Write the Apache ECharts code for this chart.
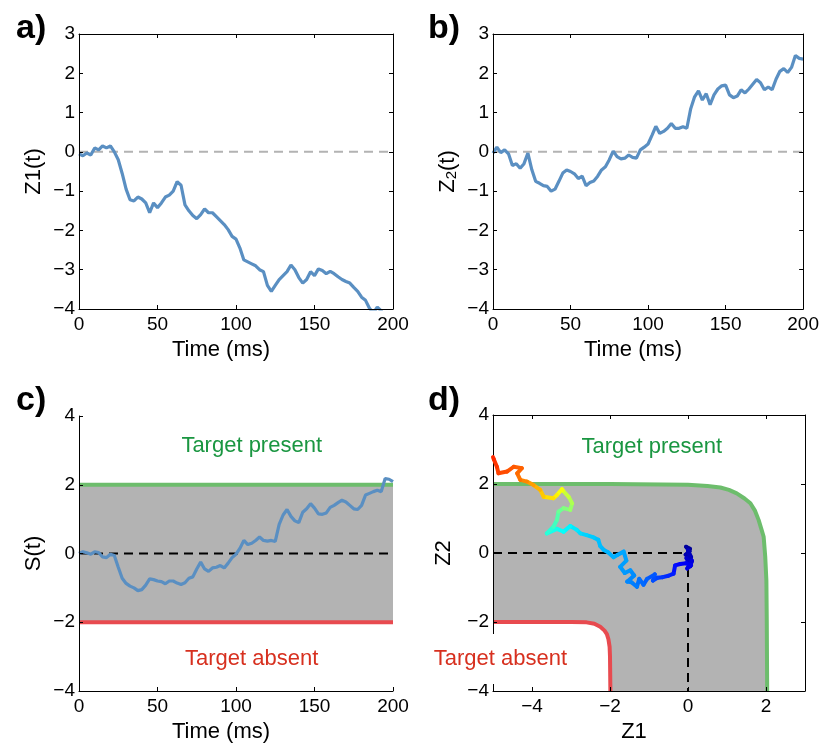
<!DOCTYPE html>
<html>
<head>
<meta charset="utf-8">
<script src="https://cdn.jsdelivr.net/npm/echarts@6/dist/echarts.min.js"></script>
<style>
html, body { margin: 0; padding: 0; background: #fff; }
#chart { width: 822px; height: 744px; }
</style>
</head>
<body>
<div id="chart"></div>
<script>
// time samples (ms) shared by panels a-c
const timeMs = [0, 2.5, 5, 7.5, 10, 12.5, 15, 17.5, 20, 22.5, 25, 27.5, 30, 32.5, 35, 37.5, 40,
  42.5, 45, 47.5, 50, 52.5, 55, 57.5, 60, 62.5, 65, 67.5, 70, 72.5, 75, 77.5, 80, 82.5, 85,
  87.5, 90, 92.5, 95, 97.5, 100, 102.5, 105, 107.5, 110, 112.5, 115, 117.5, 120, 122.5, 125,
  127.5, 130, 132.5, 135, 137.5, 140, 142.5, 145, 147.5, 150, 152.5, 155, 157.5, 160, 162.5,
  165, 167.5, 170, 172.5, 175, 177.5, 180, 182.5, 185, 187.5, 190, 192.5, 195, 197.5, 200];

// a) Z1(t)
const z1Values = [-0.05, -0.1, -0.03, -0.08, 0.1, 0.05, 0.15, 0.1, 0.15, 0.0, -0.2, -0.55,
  -0.95, -1.22, -1.25, -1.15, -1.2, -1.3, -1.55, -1.3, -1.42, -1.3, -1.15, -1.1, -1.0, -0.76,
  -0.85, -1.35, -1.5, -1.62, -1.7, -1.6, -1.45, -1.55, -1.55, -1.65, -1.75, -1.85, -1.98,
  -2.15, -2.22, -2.45, -2.75, -2.8, -2.85, -2.9, -3.0, -3.05, -3.4, -3.55, -3.4, -3.25, -3.15,
  -3.05, -2.88, -3.0, -3.2, -3.34, -3.25, -3.05, -3.15, -2.98, -3.02, -3.1, -3.04, -3.1,
  -3.18, -3.25, -3.3, -3.34, -3.45, -3.55, -3.7, -3.78, -3.98, -4.1, -3.95, -4.05, -4.2,
  -4.3, -4.35];

// b) Z2(t)
const z2Values = [-0.03, 0.12, -0.02, 0.05, -0.05, -0.35, -0.3, -0.42, -0.3, -0.03, -0.45,
  -0.75, -0.8, -0.86, -0.88, -1.0, -0.95, -0.75, -0.54, -0.46, -0.5, -0.56, -0.68, -0.62,
  -0.86, -0.78, -0.74, -0.62, -0.46, -0.38, -0.2, 0.02, -0.12, -0.18, -0.16, -0.08, -0.14,
  -0.16, 0.05, 0.12, 0.2, 0.42, 0.65, 0.47, 0.52, 0.6, 0.72, 0.6, 0.6, 0.64, 0.6, 1.1, 1.4,
  1.55, 1.32, 1.48, 1.2, 1.45, 1.6, 1.68, 1.7, 1.45, 1.38, 1.42, 1.58, 1.5, 1.6, 1.72, 1.84,
  1.76, 1.58, 1.65, 1.58, 1.85, 2.05, 2.12, 2.02, 2.15, 2.45, 2.38, 2.36];

// c) S(t)
const sValues = [0.0, 0.05, 0.02, -0.02, 0.05, 0.03, -0.1, -0.12, -0.02, -0.06, -0.4, -0.72,
  -0.87, -0.95, -1.0, -1.08, -1.05, -0.92, -0.74, -0.76, -0.8, -0.82, -0.88, -0.8, -0.8,
  -0.86, -0.9, -0.85, -0.72, -0.68, -0.45, -0.25, -0.45, -0.52, -0.42, -0.4, -0.35, -0.42,
  -0.28, -0.12, -0.02, 0.15, 0.38, 0.26, 0.3, 0.38, 0.48, 0.38, 0.36, 0.38, 0.35, 0.85,
  1.12, 1.28, 1.08, 0.95, 0.9, 1.2, 1.3, 1.45, 1.32, 1.15, 1.14, 1.18, 1.34, 1.4, 1.48,
  1.55, 1.5, 1.4, 1.3, 1.28, 1.4, 1.7, 1.75, 1.8, 1.84, 1.8, 2.18, 2.16, 2.09];

// d) trajectory in (Z1, Z2), coloured by time
const trajTime = [0, 2, 4, 6, 8, 10, 12, 14, 16, 18, 20, 22, 24, 26, 29, 32, 35, 38, 41, 44,
  46, 48, 50, 52, 54, 56, 58, 59, 60, 62, 63, 64, 65, 66, 67, 68, 69, 70, 71, 72, 74, 76, 78,
  81, 84, 87, 90, 95, 100, 105, 110, 115, 120, 125, 130, 136, 141, 146, 150, 155, 160, 165,
  170, 175, 178, 181, 184, 187, 190, 194, 197, 200];
const trajZ1 = [0, 0.05, -0.05, 0.04, -0.06, 0.08, 0.0, 0.09, -0.04, 0.06, 0.1, -0.02, 0.08,
  -0.05, -0.2, -0.33, -0.37, -0.5, -0.65, -0.78, -0.9, -0.85, -1.05, -1.14, -1.25, -1.31,
  -1.45, -1.56, -1.38, -1.48, -1.62, -1.74, -1.58, -1.65, -1.8, -1.91, -2.05, -2.16, -2.25,
  -2.3, -2.42, -2.6, -2.76, -2.85, -3.02, -3.19, -3.36, -3.62, -3.45, -3.36, -3.32, -3.19,
  -3.02, -2.97, -3.06, -3.2, -3.23, -3.36, -3.45, -3.7, -3.79, -3.96, -4.13, -4.3, -4.38,
  -4.26, -4.47, -4.64, -4.86, -4.9, -4.98, -5.0];
const trajZ2 = [0, 0.12, 0.18, 0.05, -0.05, -0.12, 0.08, -0.25, -0.15, -0.38, -0.22, -0.45,
  -0.35, -0.3, -0.32, -0.36, -0.6, -0.66, -0.7, -0.72, -0.8, -0.62, -0.75, -0.92, -0.75,
  -0.98, -0.85, -0.83, -0.65, -0.5, -0.58, -0.4, -0.22, 0.04, -0.05, -0.12, 0.02, 0.09, 0.2,
  0.38, 0.45, 0.52, 0.57, 0.67, 0.78, 0.62, 0.7, 0.57, 0.76, 0.96, 1.2, 1.3, 1.25, 1.44,
  1.63, 1.8, 1.85, 1.68, 1.59, 1.63, 1.83, 1.97, 2.07, 2.12, 2.31, 2.46, 2.5, 2.36, 2.31,
  2.5, 2.72, 2.78];

// d) decision boundaries
const presentZ1 = [-5, -2, 0, 0.5, 0.83, 1.05, 1.25, 1.45, 1.6, 1.72, 1.81, 1.88, 1.94, 1.98,
  2.01, 2.02, 2.03];
const presentZ2 = [2.0, 2.0, 1.98, 1.94, 1.9, 1.83, 1.73, 1.58, 1.44, 1.22, 0.96, 0.7, 0.47,
  -0.1, -0.8, -2, -4];
const absentZ1 = [-5, -3, -2.6, -2.4, -2.25, -2.14, -2.08, -2.04, -2.01, -2.0, -1.99];
const absentZ2 = [-2, -2, -2.01, -2.05, -2.14, -2.25, -2.35, -2.5, -2.72, -3, -4];

const dTicksZ1 = [-4, -2, 0, 2];

const FONT = '"Liberation Sans", Arial, sans-serif';
const BLUE = '#5a8fc2';
const GREEN = '#6dbd6c';
const RED = '#e84a4f';
const GRAY = '#b3b3b3';
const TXT_GREEN = '#1a9641';
const TXT_RED = '#d7301f';
const jet = ['#00008f', '#0000ff', '#0080ff', '#00ffff', '#80ff80', '#ffff00', '#ff8000', '#ff2000'];

const pairs = (xs, ys) => xs.map((x, i) => [x, ys[i]]);
const minus = (v) => String(v).replace('-', '\u2212');

function axis(o) {
  return Object.assign({
    type: 'value',
    z: 4,
    splitLine: { show: false },
    axisLine: { show: true, onZero: false, lineStyle: { color: '#000', width: 1 } },
    axisTick: { show: true, inside: true, length: 4, lineStyle: { color: '#000' } },
    axisLabel: { show: true, color: '#000', fontSize: 19, fontFamily: FONT, formatter: minus },
    nameLocation: 'middle',
    nameTextStyle: { color: '#000', fontSize: 22, fontFamily: FONT },
  }, o);
}
function xMain(grid, o) {
  return axis(Object.assign({ gridIndex: grid, position: 'bottom', nameGap: 30 }, o, {
    axisLabel: Object.assign({ show: true, color: '#000', fontSize: 19, fontFamily: FONT, formatter: minus, margin: 6 }, o.axisLabel),
    nameTextStyle: { color: '#000', fontSize: 22, fontFamily: FONT, padding: [0, 30, 0, 0] },
  }));
}
function yMain(grid, o) {
  return axis(Object.assign({ gridIndex: grid, position: 'left', nameGap: 34 }, o, {
    axisLabel: { show: true, color: '#000', fontSize: 19, fontFamily: FONT, formatter: minus, margin: 4 },
  }));
}
function mirror(grid, pos, o) {
  return axis(Object.assign({ gridIndex: grid, position: pos }, o, { axisLabel: { show: false } }));
}
function textLabel(text, color, extra) {
  return Object.assign({ formatter: text, color: color, opacity: 1, textBorderWidth: 0,
    fontSize: 22, fontFamily: FONT }, extra);
}

const timeAxis = { min: 0, max: 200, interval: 50, name: 'Time (ms)' };
const zAxis = { min: -4, max: 3, interval: 1 };

const chart = echarts.init(document.getElementById('chart'));
chart.setOption({
  animation: false,
  backgroundColor: '#fff',
  textStyle: { fontFamily: FONT },
  title: [
    { text: 'a)', left: 11, top: 7 },
    { text: 'b)', left: 423, top: 7 },
    { text: 'c)', left: 11, top: 379 },
    { text: 'd)', left: 423, top: 379 },
  ].map((t) => Object.assign(t, { textStyle: { fontSize: 34, fontWeight: 'bold', color: '#000', fontFamily: FONT } })),
  grid: [
    { left: 79, top: 34, width: 314, height: 275 },
    { left: 493, top: 34, width: 312, height: 275 },
    { left: 79, top: 416, width: 314, height: 275 },
    { left: 493, top: 415, width: 312, height: 276 },
  ],
  xAxis: [
    xMain(0, timeAxis),
    mirror(0, 'top', { min: 0, max: 200, interval: 50 }),
    xMain(1, timeAxis),
    mirror(1, 'top', { min: 0, max: 200, interval: 50 }),
    xMain(2, timeAxis),
    xMain(3, {
      min: -5, max: 3, name: 'Z1',
      axisLabel: { customValues: dTicksZ1 },
      axisTick: { show: true, inside: true, length: 4, lineStyle: { color: '#000' }, customValues: dTicksZ1 },
    }),
    mirror(3, 'top', {
      min: -5, max: 3,
      axisTick: { show: true, inside: true, length: 4, lineStyle: { color: '#000' }, customValues: dTicksZ1 },
    }),
  ],
  yAxis: [
    yMain(0, Object.assign({ name: 'Z1(t)' }, zAxis)),
    mirror(0, 'right', zAxis),
    yMain(1, Object.assign({
      name: '{n|Z}{s|2}{n|(t)}',
      nameTextStyle: {
        color: '#000', fontSize: 22, fontFamily: FONT,
        rich: {
          n: { fontSize: 22, fontFamily: FONT, color: '#000' },
          s: { fontSize: 15, fontFamily: FONT, color: '#000', verticalAlign: 'bottom', padding: [8, 0, 0, 0] },
        },
      },
    }, zAxis)),
    mirror(1, 'right', zAxis),
    yMain(2, { min: -4, max: 4, interval: 2, name: 'S(t)' }),
    yMain(3, { min: -4, max: 4, interval: 2, name: 'Z2', nameGap: 38 }),
    mirror(3, 'right', { min: -4, max: 4, interval: 2 }),
  ],
  visualMap: [{
    type: 'continuous', show: false, seriesIndex: 13, dimension: 2,
    min: 0, max: 200, inRange: { color: jet },
  }],
  series: [
    // a
    { type: 'line', xAxisIndex: 0, yAxisIndex: 0, data: [[0, 0], [200, 0]], symbol: 'none',
      lineStyle: { color: GRAY, width: 2, type: [9, 6] }, z: 2 },
    { type: 'line', xAxisIndex: 0, yAxisIndex: 0, data: pairs(timeMs, z1Values), symbol: 'none',
      lineStyle: { color: BLUE, width: 3.2 }, z: 3 },
    // b
    { type: 'line', xAxisIndex: 2, yAxisIndex: 2, data: [[0, 0], [200, 0]], symbol: 'none',
      lineStyle: { color: GRAY, width: 2, type: [9, 6] }, z: 2 },
    { type: 'line', xAxisIndex: 2, yAxisIndex: 2, data: pairs(timeMs, z2Values), symbol: 'none',
      lineStyle: { color: BLUE, width: 3.2 }, z: 3 },
    // c
    { type: 'line', xAxisIndex: 4, yAxisIndex: 4, data: [[0, 0], [200, 0]], symbol: 'none',
      lineStyle: { color: '#000', width: 2, type: [9, 6] }, z: 2,
      markArea: { silent: true, itemStyle: { color: GRAY, opacity: 1 },
        data: [[{ xAxis: 0, yAxis: -2 }, { xAxis: 200, yAxis: 2 }]] } },
    { type: 'line', xAxisIndex: 4, yAxisIndex: 4, data: [[0, 2], [200, 2]], symbol: 'none',
      lineStyle: { color: GREEN, width: 4 }, z: 2 },
    { type: 'line', xAxisIndex: 4, yAxisIndex: 4, data: [[0, -2], [200, -2]], symbol: 'none',
      lineStyle: { color: RED, width: 4 }, z: 2 },
    { type: 'line', xAxisIndex: 4, yAxisIndex: 4, data: pairs(timeMs, sValues), symbol: 'none',
      lineStyle: { color: BLUE, width: 3.2 }, z: 3 },
    { type: 'scatter', xAxisIndex: 4, yAxisIndex: 4, symbolSize: 0, z: 8, silent: true,
      itemStyle: { color: '#fff', opacity: 1 },
      label: { show: true, position: 'inside' },
      data: [
        { value: [110, 3.14], label: textLabel('Target present', TXT_GREEN) },
        { value: [110, -3.08], label: textLabel('Target absent', TXT_RED) },
      ] },
    // d
    { type: 'line', xAxisIndex: 5, yAxisIndex: 5, data: pairs(presentZ1, presentZ2), symbol: 'none',
      lineStyle: { color: GREEN, width: 4 }, areaStyle: { color: GRAY, opacity: 1, origin: 'start' }, z: 2 },
    { type: 'line', xAxisIndex: 5, yAxisIndex: 5, data: pairs(absentZ1, absentZ2), symbol: 'none',
      lineStyle: { color: RED, width: 4 }, areaStyle: { color: '#fff', opacity: 1, origin: 'start' }, z: 3 },
    { type: 'line', xAxisIndex: 5, yAxisIndex: 5, data: [[-5, 0], [0, 0]], symbol: 'none',
      lineStyle: { color: '#000', width: 2, type: [9, 6] }, z: 4 },
    { type: 'line', xAxisIndex: 5, yAxisIndex: 5, data: [[0, 0], [0, -4]], symbol: 'none',
      lineStyle: { color: '#000', width: 2, type: [9, 6] }, z: 4 },
    { type: 'custom', xAxisIndex: 5, yAxisIndex: 5, z: 6, silent: true,
      data: trajTime.map((t, i) => [trajZ1[i], trajZ2[i], t]),
      encode: { x: 0, y: 1 },
      renderItem(params, api) {
        const i = params.dataIndexInside;
        if (i >= trajTime.length - 1) return null;
        const p0 = api.coord([api.value(0), api.value(1)]);
        const p1 = api.coord([api.value(0, i + 1), api.value(1, i + 1)]);
        return { type: 'line', shape: { x1: p0[0], y1: p0[1], x2: p1[0], y2: p1[1] },
          style: { stroke: api.visual('color'), lineWidth: 4, lineCap: 'round' } };
      } },
    { type: 'scatter', xAxisIndex: 5, yAxisIndex: 5, symbolSize: 0, z: 8, silent: true,
      itemStyle: { color: '#fff', opacity: 1 },
      label: { show: true, position: 'inside' },
      data: [
        { value: [-0.93, 3.08], label: textLabel('Target present', TXT_GREEN) },
        { value: [-4.81, -3.07], label: textLabel('Target absent', TXT_RED,
          { backgroundColor: '#fff', padding: [14, 4] }) },
      ] },
  ],
});
</script>
</body>
</html>
